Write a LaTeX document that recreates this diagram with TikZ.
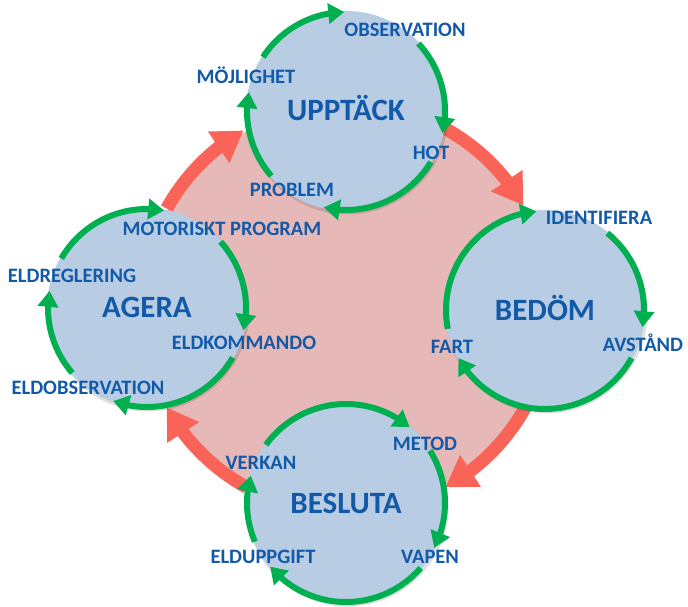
\documentclass[tikz,border=0pt]{standalone}
\usepackage{fontspec}
\setmainfont{Carlito}
\usetikzlibrary{arrows.meta,bending}
\definecolor{cfill}{RGB}{184,204,228}
\definecolor{ctext}{RGB}{18,90,168}
\definecolor{cgreen}{RGB}{0,176,80}
\definecolor{cred}{RGB}{250,100,88}
\definecolor{cpink}{RGB}{230,184,183}
\begin{document}
\begin{tikzpicture}[x=1pt,y=1pt,
  phase/.style={circle, fill=cfill, minimum size=200pt, inner sep=0pt, text=ctext,
    font=\bfseries\fontsize{31}{36}\selectfont, text height=20pt, text depth=0pt},
  lbl/.style={text=ctext, font=\bfseries\fontsize{20.5}{24}\selectfont, inner sep=0pt,
    text height=13pt, text depth=0pt},
  garc/.style={draw=cgreen, line width=6pt, -{Triangle[width=20pt,length=16pt]}},
  rarc/.style={draw=cred, line width=13pt, -{Triangle[width=36pt,length=30pt]}},
  shade/.style={fill=black, opacity=0.12},
]
\useasboundingbox (0,0) rectangle (688,606);
\coordinate (mid) at (346,298);
\fill[cpink] (mid) circle[radius=203];
% red cycle arrows
\foreach \s/\e in {61/30,-29/-61,-119/-151,151/120}
  \draw[rarc] ([shift={(\s:205)}]mid) arc[start angle=\s, end angle=\e, radius=205];
% shadows
\foreach \p in {(346,495),(545,296),(147,298),(346,103)}
  \fill[shade] \p ++(1.5,-2.5) circle[radius=101];
% phase circles
\node[phase] (upp) at (346,495) {UPPTÄCK};
\node[phase] (bed) at (545,296) {BEDÖM};
\node[phase] (age) at (147,298) {AGERA};
\node[phase] (bes) at (346,103) {BESLUTA};
% green inner cycles
\foreach \s/\e in {147/91,43/-13,-31/-103,221/169}
  \draw[garc] ([shift={(\s:99)}]upp.center) arc[start angle=\s, end angle=\e, radius=99];
\foreach \s/\e in {191/95,51/-10,-29/-151}
  \draw[garc] ([shift={(\s:99)}]bed.center) arc[start angle=\s, end angle=\e, radius=99];
\foreach \s/\e in {150/80,42/-13,-30/-110,221/170}
  \draw[garc] ([shift={(\s:99)}]age.center) arc[start angle=\s, end angle=\e, radius=99];
\foreach \s/\e in {144/50,32/-27,-41/-140,203/164}
  \draw[garc] ([shift={(\s:99)}]bes.center) arc[start angle=\s, end angle=\e, radius=99];
% labels
\node[lbl] (obs) at (405,576) {OBSERVATION};
\node[lbl] (moj) at (246,529) {MÖJLIGHET};
\node[lbl] (hot) at (431,453) {HOT};
\node[lbl] (pro) at (292,416) {PROBLEM};
\node[lbl] (ide) at (599,388) {IDENTIFIERA};
\node[lbl] (avs) at (643,261) {AVSTÅND};
\node[lbl] (far) at (452,259) {FART};
\node[lbl] (mot) at (222,377) {MOTORISKT PROGRAM};
\node[lbl] (elr) at (72,330) {ELDREGLERING};
\node[lbl] (elk) at (244,263) {ELDKOMMANDO};
\node[lbl] (elo) at (88,218) {ELDOBSERVATION};
\node[lbl] (met) at (425,162) {METOD};
\node[lbl] (ver) at (261,143) {VERKAN};
\node[lbl] (elu) at (263,49) {ELDUPPGIFT};
\node[lbl] (vap) at (430,49) {VAPEN};
\end{tikzpicture}
\end{document}
